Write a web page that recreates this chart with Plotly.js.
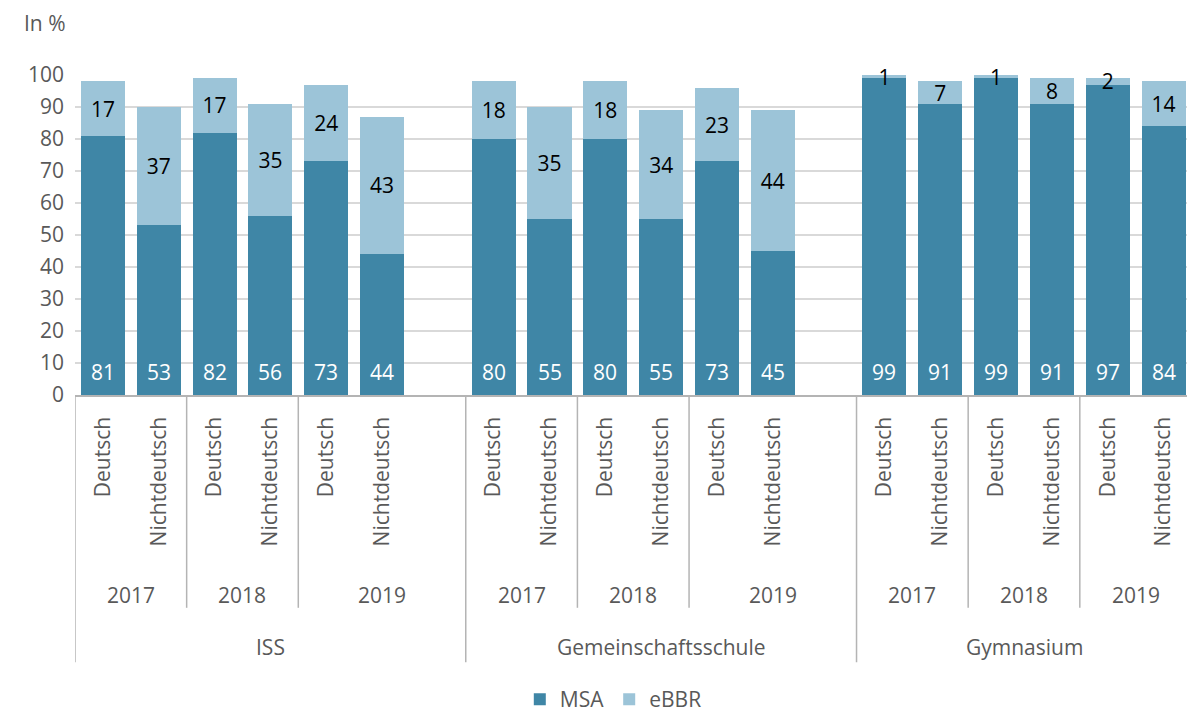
<!DOCTYPE html>
<html>
<head>
<meta charset="utf-8">
<script src="https://cdn.plot.ly/plotly-3.0.1.min.js"></script>
<style>html,body{margin:0;padding:0;background:#fff;}#chart{width:1187px;height:720px;}</style>
</head>
<body>
<div id="chart"></div>
<script>
const schools = ['ISS', 'Gemeinschaftsschule', 'Gymnasium'];
const years = ['2017', '2018', '2019'];
const origins = ['Deutsch', 'Nichtdeutsch'];
// values in order school > year > origin
const msa  = [81, 53, 82, 56, 73, 44,  80, 55, 80, 55, 73, 45,  99, 91, 99, 91, 97, 84];
const ebbr = [17, 37, 17, 35, 24, 43,  18, 35, 18, 34, 23, 44,   1,  7,  1,  8,  2, 14];
const seriesNames = ['MSA', 'eBBR'];
const yTicks = [0, 10, 20, 30, 40, 50, 60, 70, 80, 90, 100];

const FONT = 'Open Sans, Noto Sans, sans-serif';
const GREY = '#595959';
const LINE = '#b4b4b4';

const cats = [], tickText = [], msaY = [], ebbrY = [];
const annotations = [], shapes = [];
let k = 0, idx = 0;
schools.forEach((s, si) => {
  const schoolStart = idx;
  shapes.push({type: 'line', xref: 'x', yref: 'paper', x0: idx - 0.5, x1: idx - 0.5, y0: 0, y1: -0.835,
               line: {color: LINE, width: 1.5}});
  years.forEach((y, yi) => {
    const yStart = idx;
    if (yi > 0) {
      shapes.push({type: 'line', xref: 'x', yref: 'paper', x0: idx - 0.5, x1: idx - 0.5, y0: 0, y1: -0.665,
                   line: {color: LINE, width: 1.5}});
    }
    origins.forEach(o => {
      const c = s + ' ' + y + ' ' + o;
      cats.push(c);
      tickText.push(o);
      msaY.push(msa[k]);
      ebbrY.push(ebbr[k]);
      // MSA value label near the base of the bar
      annotations.push({xref: 'x', yref: 'y', x: c, y: 0, yanchor: 'bottom', xanchor: 'center', yshift: 7,
                        text: String(msa[k]), showarrow: false,
                        font: {family: FONT, size: 21, color: '#ffffff'}});
      k++; idx++;
    });
    let yEnd = idx;
    if (yi === years.length - 1 && si < schools.length - 1) yEnd = idx + 1;
    annotations.push({xref: 'x', yref: 'paper', x: (yStart + yEnd - 1) / 2, y: -0.626, text: y,
                      showarrow: false, xanchor: 'center', yanchor: 'middle', font: {family: FONT, size: 21, color: GREY}});
  });
  if (si < schools.length - 1) {
    cats.push(s + ' gap');
    tickText.push('');
    msaY.push(null);
    ebbrY.push(null);
    idx++;
  }
  annotations.push({xref: 'x', yref: 'paper', x: (schoolStart + idx - 1) / 2, y: -0.787, text: s,
                    showarrow: false, xanchor: 'center', yanchor: 'middle', font: {family: FONT, size: 21, color: GREY}});
});

annotations.push({xref: 'paper', yref: 'paper', x: -0.048, y: 1.164, text: 'In %', showarrow: false,
                  xanchor: 'left', yanchor: 'middle', font: {family: FONT, size: 21, color: GREY}});

const traces = [
  {type: 'bar', name: seriesNames[0], x: cats, y: msaY,
   marker: {color: '#3f86a6'}, textposition: 'none', hoverinfo: 'skip'},
  {type: 'bar', name: seriesNames[1], x: cats, y: ebbrY,
   marker: {color: '#9cc4d8'},
   texttemplate: '%{y}', textposition: 'inside', insidetextanchor: 'middle', textangle: 0,
   textfont: {family: FONT, size: 21, color: '#000000'}, constraintext: 'none', cliponaxis: false, hoverinfo: 'skip'}
];

const layout = {
  width: 1187, height: 720,
  margin: {l: 75, r: 0, t: 75, b: 322},
  barmode: 'stack',
  bargap: 0.21,
  paper_bgcolor: '#fff', plot_bgcolor: '#fff',
  font: {family: FONT, size: 21, color: GREY},
  uniformtext: {mode: 'show', minsize: 21},
  xaxis: {
    type: 'category', categoryorder: 'array', categoryarray: cats,
    range: [-0.5, 19.42],
    tickmode: 'array', tickvals: cats, ticktext: tickText, tickangle: -90,
    ticks: '', showgrid: false, zeroline: false,
    showline: true, linecolor: LINE, linewidth: 1.5,
    ticklabelstandoff: 12,
    tickfont: {family: FONT, size: 21, color: GREY}
  },
  yaxis: {
    range: [0, 100], tickmode: 'array', tickvals: yTicks,
    showgrid: true, gridcolor: '#d9d9d9', gridwidth: 1.5, zeroline: false,
    showline: false, ticks: '', ticklabelstandoff: 10,
    tickfont: {family: FONT, size: 21, color: GREY}
  },
  showlegend: true,
  legend: {orientation: 'h', x: 0.4, xanchor: 'left', y: -0.953, yanchor: 'middle',
           font: {family: FONT, size: 21, color: GREY}, traceorder: 'normal', itemclick: false},
  annotations: annotations,
  shapes: shapes
};

Plotly.newPlot('chart', traces, layout, {displayModeBar: false, staticPlot: true});
</script>
</body>
</html>
